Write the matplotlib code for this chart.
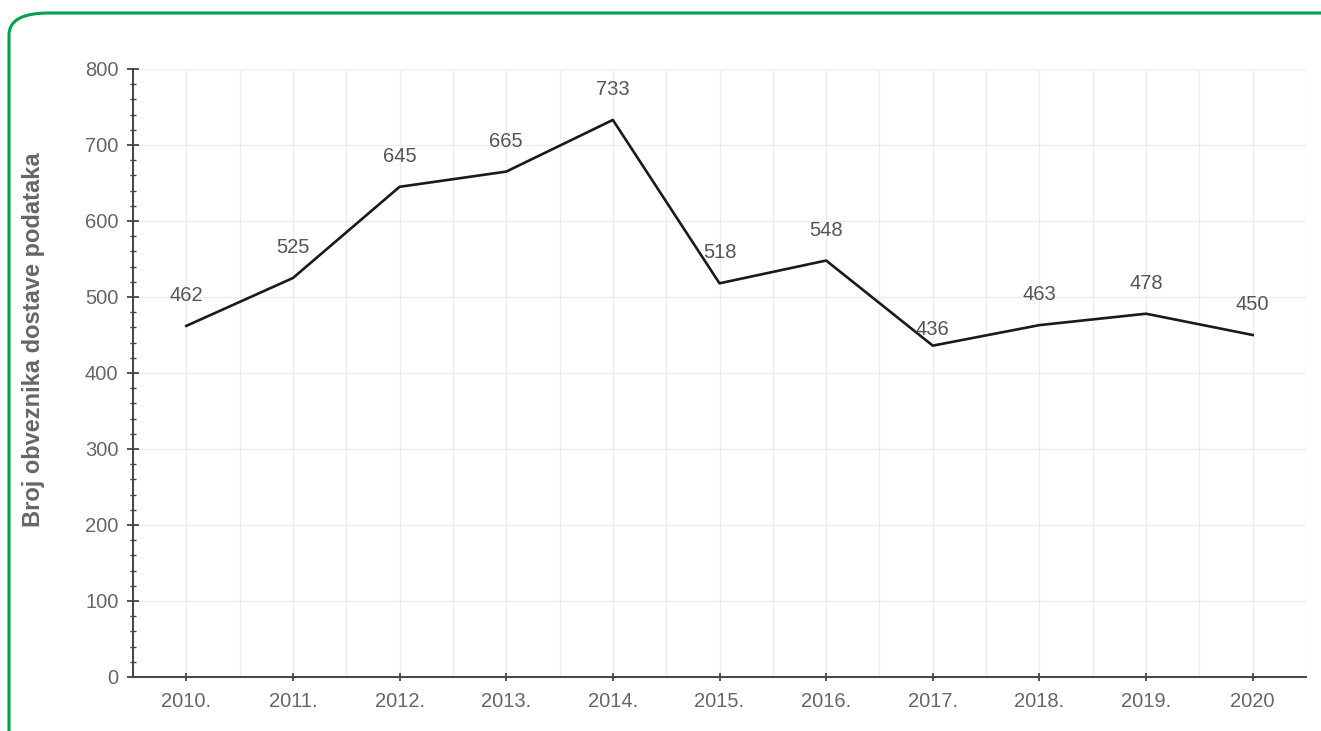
import matplotlib.pyplot as plt
from matplotlib.patches import FancyBboxPatch
from matplotlib.ticker import MultipleLocator

# podaci
years = ['2010.', '2011.', '2012.', '2013.', '2014.', '2015.', '2016.',
         '2017.', '2018.', '2019.', '2020']
values = [462, 525, 645, 665, 733, 518, 548, 436, 463, 478, 450]

plt.rcParams['font.family'] = ['Liberation Sans', 'DejaVu Sans']

fig = plt.figure(figsize=(13.21, 7.31), dpi=100)

# zeleni okvir
frame = FancyBboxPatch((9 / 1321, -0.05), 1.2, 1 - 13 / 731 + 0.05,
                       boxstyle='round,pad=0,rounding_size=0.03',
                       transform=fig.transFigure, fill=False,
                       edgecolor='#00a14b', linewidth=2.2, zorder=0)
fig.patches.append(frame)

ax = fig.add_axes([133 / 1321, 1 - 677 / 731, (1306 - 133) / 1321, (677 - 69) / 731])

x = list(range(len(years)))
ax.plot(x, values, color='#1a1a1a', linewidth=1.9, zorder=3)

for xi, v in zip(x, values):
    off = 5 if v == 436 else 15
    ax.annotate(str(v), (xi, v), xytext=(0, off), textcoords='offset points',
                ha='center', va='bottom', fontsize=14.5, color='#555555')

ax.set_xlim(-0.5, 10.5)
ax.set_ylim(0, 800)
ax.set_xticks(x)
ax.set_xticklabels(years)
ax.set_xticks([i + 0.5 for i in range(-1, 11)], minor=True)
ax.yaxis.set_major_locator(MultipleLocator(100))
ax.yaxis.set_minor_locator(MultipleLocator(20))

ax.grid(True, which='major', color='#ececec', linewidth=0.9)
ax.grid(True, which='minor', axis='x', color='#ececec', linewidth=0.9)

for s in ['top', 'right']:
    ax.spines[s].set_visible(False)
for s in ['left', 'bottom']:
    ax.spines[s].set_color('#444444')
    ax.spines[s].set_linewidth(1.4)

ax.tick_params(axis='y', which='major', direction='inout', length=9, width=1.3,
               color='#444444', labelsize=14.5, labelcolor='#666666', pad=6)
ax.tick_params(axis='y', which='minor', direction='inout', length=5, width=1.0,
               color='#444444')
ax.tick_params(axis='x', which='major', direction='inout', length=6, width=1.3,
               color='#444444', labelsize=14.5, labelcolor='#666666', pad=8)
ax.tick_params(axis='x', which='minor', length=0)

ax.set_ylabel('Broj obveznika dostave podataka', fontsize=17, fontweight='bold',
              color='#666666')
ax.yaxis.set_label_coords(-0.075, 0.555)

fig.savefig('out.png', dpi=100)
